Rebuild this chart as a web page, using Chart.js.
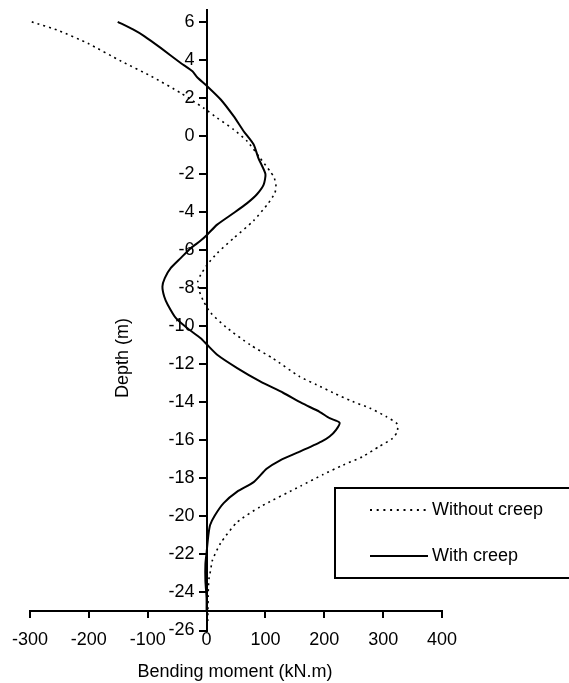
<!DOCTYPE html>
<html>
<head>
<meta charset="utf-8">
<title>Bending moment profile</title>
<script src="https://cdn.jsdelivr.net/npm/chart.js@4.4.0/dist/chart.umd.min.js"></script>
<style>
  html, body { margin: 0; padding: 0; background: #fff; }
  canvas { display: block; }
</style>
</head>
<body>
<canvas id="moment-chart" width="569" height="683"></canvas>
<script>
  // Bending moment along the wall, without creep (m / kN.m)
  const depthNoCreep = [6, 5.55, 4.86, 3.93, 3.14, 2.26, 1.47, 0.95, 0.34, -0.28, -1.16, -1.86, -2.2, -2.65, -3.0,
    -3.53, -4.45, -5.37, -6.16, -6.77, -7.3, -7.65, -8.1, -8.7, -9.3, -10.05, -10.98, -11.7, -12.65, -13.08,
    -13.5, -13.96, -14.3, -14.75, -15.14, -15.54, -15.9, -16.33, -16.86, -17.3, -17.8, -18.4, -19.5, -20.3,
    -21.4, -22.3, -22.8, -23.3, -23.8, -25.5];
  const momentNoCreep = [-297, -252, -201, -145, -94, -44, -5, 18, 46, 69, 91, 108, 115, 118, 116,
    105, 80, 46, 18, 1, -10, -15, -13, -5, 7, 33, 74, 113, 158, 187,
    215, 248, 277, 305, 324, 324, 316, 293, 265, 232, 198, 160, 91, 52,
    24, 10, 7, 4, 3, 2];

  // Bending moment along the wall, with creep
  const depthCreep = [6, 5.6, 5.25, 4.63, 3.84, 3.4, 3.09, 2.62, 1.92, 1.04, 0.25, -0.45, -1.16, -2.0, -2.56,
    -3.05, -3.53, -4.05, -4.66, -5.19, -5.5, -5.9, -6.42, -6.95, -7.47, -7.91, -8.44, -8.87, -9.58, -10.1,
    -10.63, -10.98, -11.5, -12.2, -12.9, -13.5, -14.05, -14.5, -14.84, -15.07, -15.45, -15.8, -16.07, -16.6,
    -17.05, -17.5, -18.2, -18.7, -19.3, -19.95, -20.45, -21.0, -21.9, -22.5, -23.4, -24.3, -25.0];
  const momentCreep = [-151, -125, -106, -78, -44, -24, -16, 1, 24, 46, 63, 80, 88, 100, 97,
    86, 69, 46, 18, 1, -10, -27, -44, -61, -71, -75, -72, -66, -52, -33,
    -10, 1, 18, 52, 91, 130, 162, 192, 209, 226, 220, 209, 195, 158,
    125, 102, 80, 52, 29, 14, 6, 3, 0, -2, -2, 0, 0];

  const seriesLabels = ['Without creep', 'With creep'];
  const momentTicks = [-300, -200, -100, 0, 100, 200, 300, 400];
  const depthTicks = [-26, -24, -22, -20, -18, -16, -14, -12, -10, -8, -6, -4, -2, 0, 2, 4, 6];

  const FONT = "'Liberation Sans', Arial, sans-serif";

  const toPoints = (xs, ys) => xs.map((x, i) => ({ x: x, y: ys[i] }));

  // The depth axis crosses at zero moment; Chart.js would centre its labels on
  // the axis line, so they are written here to the left of the tick marks
  const depthLabels = {
    id: 'depthLabels',
    beforeDatasetsDraw(chart) {
      const ctx = chart.ctx;
      const yScale = chart.scales.y;
      const axisX = chart.scales.x.getPixelForValue(0);
      ctx.save();
      ctx.fillStyle = '#000';
      ctx.font = '18px ' + FONT;
      ctx.textAlign = 'right';
      ctx.textBaseline = 'middle';
      yScale.ticks.forEach(t => {
        ctx.fillText(String(t.value), axisX - 12, yScale.getPixelForValue(t.value));
      });
      ctx.restore();
    }
  };

  // Titles and the boxed legend sit outside what the built-in plugins can place
  const decorations = {
    id: 'decorations',
    afterDraw(chart) {
      const ctx = chart.ctx;
      ctx.save();
      ctx.fillStyle = '#000';
      ctx.font = '18px ' + FONT;

      ctx.textAlign = 'center';
      ctx.textBaseline = 'alphabetic';
      ctx.fillText('Bending moment (kN.m)', 235, 677);

      ctx.translate(123, 358);
      ctx.rotate(-Math.PI / 2);
      ctx.textBaseline = 'middle';
      ctx.fillText('Depth (m)', 0, 0);
      ctx.restore();

      ctx.save();
      ctx.fillStyle = '#fff';
      ctx.fillRect(335, 488, 240, 90);
      ctx.strokeStyle = '#000';
      ctx.lineWidth = 2;
      ctx.strokeRect(335, 488, 240, 90);
      ctx.font = '18px ' + FONT;
      ctx.fillStyle = '#000';
      ctx.textAlign = 'left';
      ctx.textBaseline = 'middle';
      chart.data.datasets.forEach((ds, i) => {
        const y = 510 + i * 46;
        ctx.beginPath();
        ctx.setLineDash(i === 0 ? [2, 4.7] : []);
        ctx.lineWidth = 2;
        ctx.moveTo(370, y);
        ctx.lineTo(428, y);
        ctx.stroke();
        ctx.fillText(ds.label, 432, y);
      });
      ctx.restore();
    }
  };

  const chart = new Chart(document.getElementById('moment-chart'), {
    type: 'scatter',
    data: {
      datasets: [{
        label: seriesLabels[0],
        data: toPoints(momentNoCreep, depthNoCreep),
        showLine: true,
        borderColor: '#000',
        borderWidth: 1.6,
        borderDash: [2, 4],
        pointRadius: 0,
        tension: 0.2
      }, {
        label: seriesLabels[1],
        data: toPoints(momentCreep, depthCreep),
        showLine: true,
        borderColor: '#000',
        borderWidth: 2,
        pointRadius: 0,
        tension: 0.2
      }]
    },
    options: {
      responsive: false,
      animation: false,
      devicePixelRatio: 1,
      layout: { padding: { left: 26, right: 127, top: 9.5, bottom: 52.5 } },
      plugins: {
        legend: { display: false },
        tooltip: { enabled: false }
      },
      scales: {
        x: {
          type: 'linear',
          position: { y: -25 },
          min: -300,
          max: 400,
          afterBuildTicks: axis => { axis.ticks = momentTicks.map(v => ({ value: v })); },
          grid: { drawOnChartArea: false, drawTicks: true, tickLength: 6, lineWidth: 2, color: '#000' },
          border: { color: '#000', width: 2 },
          ticks: { color: '#000', font: { family: FONT, size: 18 }, padding: 12, autoSkip: false, maxRotation: 0 }
        },
        y: {
          type: 'linear',
          position: { x: 0 },
          min: -26,
          max: 6.65,
          afterBuildTicks: axis => { axis.ticks = depthTicks.map(v => ({ value: v })); },
          grid: { drawOnChartArea: false, drawTicks: true, tickLength: 7, lineWidth: 2, color: '#000' },
          border: { color: '#000', width: 2 },
          ticks: { display: false, autoSkip: false }
        }
      }
    },
    plugins: [depthLabels, decorations]
  });
</script>
</body>
</html>
